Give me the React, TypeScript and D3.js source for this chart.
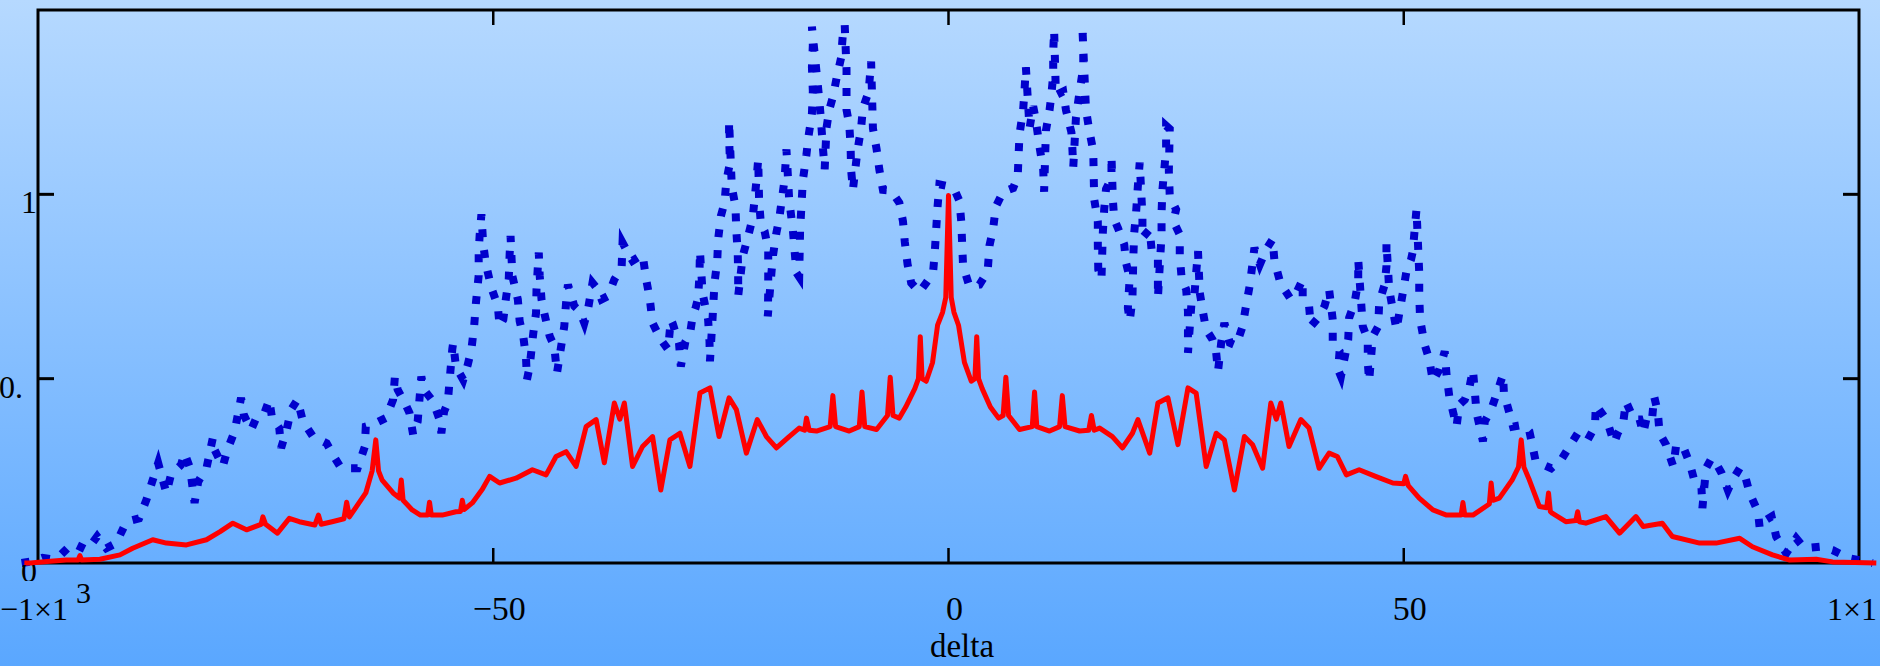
import React from "react";
import * as d3 from "d3";

// ---- data (delta, value) ----
const xTicks = [-50, 0, 50];
const yTicks = [0.5, 1];

const blueLeft: [number, number][] = [
  [-101.8,0],[-100.5,0.005],[-99.5,0.014],[-98.5,0.01],[-97.5,0.022],[-96.2,0.054],[-94.6,0.035],[-93.5,0.072],[-92.5,0.04],[-91.4,0.054],[-90.3,0.112],[-88.9,0.121],[-88.1,0.171],[-87.4,0.225],[-86.8,0.271],[-85.9,0.19],[-85.4,0.239],[-84.3,0.266],[-83.9,0.298],[-83.3,0.257],[-82.8,0.163],[-82.4,0.221],[-81.5,0.257],[-80.8,0.339],[-80.6,0.307],[-79.7,0.262],[-79.2,0.307],[-78.4,0.357],[-77.7,0.448],[-77.4,0.402],[-76.6,0.361],[-76.1,0.389],[-75.2,0.402],[-74.6,0.443],[-74.3,0.394],[-73.5,0.366],[-73.3,0.312],[-72.7,0.36],[-72.2,0.416],[-71.5,0.443],[-70.9,0.384],[-69.8,0.343],[-68.3,0.325],[-67.6,0.293],[-66.7,0.257],[-64.9,0.257],[-64.1,0.316],[-64.0,0.37],[-63.3,0.375],[-61.8,0.393],[-61.0,0.443],[-60.8,0.506],[-60.5,0.47],[-59.7,0.434],[-59.2,0.407],[-58.8,0.348],[-58.3,0.384],[-57.9,0.506],[-57.6,0.47],[-56.6,0.438],[-55.9,0.389],[-55.7,0.352],[-55.4,0.411],[-55.0,0.434],[-54.8,0.493],[-54.5,0.58],[-54.4,0.597],[-54.1,0.533],[-53.3,0.497],[-52.8,0.538],[-52.4,0.579],[-52.1,0.642],[-51.9,0.706],[-51.6,0.78],[-51.6,0.84],[-51.5,0.887],[-51.3,0.946],[-51.1,0.864],[-50.8,0.81],[-50.2,0.746],[-49.5,0.697],[-49.3,0.642],[-48.9,0.66],[-48.6,0.719],[-48.3,0.769],[-48.2,0.837],[-48.1,0.887],[-47.9,0.778],[-47.3,0.715],[-47.1,0.656],[-46.7,0.615],[-46.4,0.556],[-46.3,0.497],[-46.0,0.533],[-45.6,0.624],[-45.3,0.678],[-45.25,0.742],[-45.1,0.805],[-45.0,0.842],[-44.9,0.78],[-44.7,0.715],[-44.4,0.678],[-43.8,0.615],[-43.3,0.588],[-43.0,0.515],[-42.2,0.642],[-42.0,0.706],[-41.8,0.755],[-41.1,0.697],[-40.5,0.683],[-40.0,0.651],[-39.6,0.687],[-39.1,0.76],[-38.5,0.742],[-38.1,0.715],[-37.4,0.724],[-36.7,0.769],[-35.9,0.801],[-35.8,0.869],[-35.0,0.832],[-34.7,0.82],[-33.6,0.837],[-33.2,0.769],[-32.8,0.715],[-32.5,0.651],[-31.6,0.606],[-30.8,0.579],[-30.5,0.66],[-30.3,0.65],[-29.6,0.597],[-29.4,0.533],[-28.9,0.6],[-28.4,0.62],[-28.1,0.669],[-27.8,0.69],[-27.5,0.719],[-27.35,0.783],[-27.3,0.846],[-27.0,0.73],[-26.4,0.66],[-26.25,0.601],[-26.2,0.547],[-25.9,0.669],[-25.7,0.76],[-25.4,0.819],[-25.3,0.878],[-25.0,0.941],[-24.6,0.977],[-24.4,1.036],[-24.0,1.086],[-24.1,1.154],[-24.1,1.199],[-23.8,1.02],[-23.4,0.968],[-23.3,0.9],[-23.15,0.842],[-23.1,0.787],[-23.1,0.724],[-22.6,0.832],[-22.0,0.887],[-21.5,0.937],[-21.1,1.036],[-20.9,1.095],[-20.8,0.98],[-20.6,0.918],[-20.2,0.9],[-19.8,0.851],[-19.8,0.787],[-19.8,0.733],[-19.85,0.669],[-19.3,0.83],[-18.9,0.896],[-18.6,0.932],[-18.0,1.041],[-17.8,1.122],[-17.5,0.986],[-17.1,0.905],[-16.9,0.846],[-16.7,0.787]
];

const blueCenter: [number, number][] = [
  [-16.4,0.776],[-16.3,0.902],[-16.0,1.037],[-15.6,1.108],[-15.4,1.153],[-15.0,1.219],[-14.9,1.279],[-15.0,1.345],[-14.9,1.405],[-15.0,1.455],[-14.2,1.259],[-14.0,1.199],[-13.8,1.128],[-13.6,1.068],[-13.4,1.18],[-13.1,1.229],[-12.7,1.264],[-12.3,1.314],[-11.8,1.37],[-11.6,1.435],[-11.4,1.46],[-11.2,1.34],[-11.2,1.229],[-10.9,1.189],[-10.75,1.128],[-10.7,1.068],[-10.5,1.012],[-10.0,1.118],[-9.6,1.179],[-9.4,1.234],[-8.9,1.269],[-8.7,1.3],[-8.5,1.36],[-8.3,1.179],[-7.9,1.123],[-7.6,1.068],[-7.2,1.012],[-6.3,1.01],[-5.4,0.977],[-5.0,0.927],[-4.8,0.871],[-4.5,0.811],[-4.1,0.76],[-3.2,0.735],[-2.45,0.76],[-1.7,0.786],[-1.5,0.846],[-1.35,0.906],[-1.2,0.967],[-1.0,1.027],[0,1.022],[0.7,1.01],[1.2,0.982],[1.4,0.927],[1.5,0.866],[1.6,0.806],[2.3,0.75],[3.4,0.755],[4.3,0.791],[4.5,0.861],[4.9,0.906],[5.2,0.967],[6.0,1.007],[7.1,1.017],[7.6,1.048],[7.7,1.108],[7.8,1.163],[8.2,1.229],[8.35,1.284],[8.5,1.345],[8.9,1.179],[9.3,1.239],[9.6,1.2],[10.0,1.128],[10.4,1.068],[10.5,1.007],[10.7,1.173],[11.1,1.229],[11.3,1.27],[11.5,1.325],[11.5,1.385],[11.6,1.445],[11.8,1.269],[12.6,1.279],[12.9,1.229],[13.5,1.168],[13.6,1.128],[13.7,1.073],[14.0,1.209],[14.4,1.279],[14.8,1.345],[14.8,1.4],[14.7,1.455],[15.1,1.229],[15.5,1.168],[15.9,1.118],[15.95,1.048],[16.0,0.987],[16.4,0.927],[16.4,0.861],[16.45,0.796],[16.8,0.769]
];

const blueRight: [number, number][] = [
  [16.95,0.896],[17.1,0.959],[17.3,1.014],[17.9,1.045],[17.9,1.104],[18.05,0.986],[18.2,0.932],[18.6,0.909],[19.3,0.864],[19.5,0.814],[19.9,0.774],[19.7,0.692],[19.9,0.656],[20.2,0.715],[20.3,0.832],[20.4,0.896],[20.6,0.95],[20.8,1.023],[21.0,1.086],[21.3,0.941],[21.3,0.882],[22.1,0.905],[22.3,0.851],[23.0,0.828],[23.0,0.769],[23.0,0.719],[23.4,0.891],[23.4,0.95],[23.5,1.014],[23.9,1.122],[23.9,1.186],[24.3,1.177],[24.2,1.063],[24.3,0.995],[25.0,0.959],[24.7,0.927],[25.4,0.891],[25.4,0.832],[25.6,0.774],[26.1,0.742],[26.3,0.683],[26.3,0.629],[26.3,0.57],[26.7,0.71],[27.0,0.724],[27.2,0.787],[27.4,0.846],[27.6,0.733],[27.9,0.687],[28.3,0.633],[29.0,0.606],[29.4,0.57],[29.6,0.52],[29.95,0.597],[30.3,0.651],[30.9,0.597],[31.6,0.59],[32.3,0.642],[32.7,0.701],[33.1,0.755],[33.4,0.814],[33.6,0.855],[34.2,0.81],[34.9,0.851],[35.6,0.878],[35.8,0.819],[36.4,0.764],[36.9,0.742],[37.6,0.715],[38.2,0.733],[38.9,0.769],[38.9,0.715],[39.6,0.697],[39.8,0.642],[40.6,0.665],[41.3,0.697],[41.8,0.742],[42.2,0.66],[42.2,0.597],[42.95,0.574],[42.8,0.524],[43.1,0.506],[43.9,0.606],[44.0,0.665],[44.6,0.706],[45.0,0.764],[45.0,0.823],[45.5,0.642],[46.05,0.606],[46.05,0.543],[46.2,0.493],[46.6,0.615],[47.2,0.642],[47.3,0.706],[47.9,0.755],[48.1,0.805],[48.1,0.869],[48.4,0.742],[48.8,0.687],[49.2,0.633],[49.9,0.733],[50.3,0.792],[50.8,0.823],[51.0,0.846],[51.2,0.905],[51.4,0.959],[51.7,0.787],[51.7,0.724],[51.8,0.66],[52.3,0.592],[52.8,0.552],[53.2,0.493],[53.9,0.524],[54.5,0.574],[54.7,0.511],[55.0,0.452],[55.8,0.37],[56.1,0.429],[56.7,0.443],[57.2,0.475],[57.6,0.524],[58.0,0.407],[58.7,0.33],[58.9,0.384],[59.6,0.416],[60.3,0.466],[60.9,0.511],[61.0,0.461],[61.6,0.407],[62.0,0.37],[63.1,0.375],[63.8,0.357],[64.0,0.334],[64.5,0.275],[66.2,0.257],[67.3,0.28],[68.2,0.316],[69.1,0.352],[70.2,0.334],[71.0,0.37],[71.1,0.429],[72.0,0.398],[72.4,0.38],[73.1,0.325],[73.5,0.352],[74.1,0.38],[74.4,0.438],[75.3,0.389],[75.9,0.389],[76.3,0.352],[76.8,0.407],[77.3,0.398],[77.5,0.452],[77.9,0.41],[78.1,0.352],[78.8,0.321],[79.6,0.262],[79.9,0.316],[80.6,0.321],[81.4,0.271],[82.1,0.207],[82.7,0.203],[82.8,0.149],[83.2,0.257],[83.8,0.284],[84.3,0.271],[84.9,0.244],[85.6,0.198],[86.1,0.225],[86.9,0.257],[87.4,0.244],[88.0,0.189],[88.9,0.139],[89.1,0.094],[89.8,0.117],[90.4,0.126],[90.9,0.072],[92.0,0.026],[93.1,0.067],[94.0,0.04],[95.7,0.044],[97.1,0.035],[98.9,0.013],[101.5,0]
];

const redLeft: [number, number][] = [
  [-101.5,0],[-100.8,0.0],[-99,0.004],[-96.9,0.008],[-95.6,0.008],[-95.4,0.02],[-95.2,0.008],[-93.2,0.01],[-91,0.022],[-89.6,0.04],[-87.4,0.063],[-85.9,0.054],[-83.7,0.049],[-81.5,0.063],[-80,0.085],[-78.6,0.108],[-77.1,0.09],[-75.5,0.105],[-75.3,0.125],[-75.0,0.105],[-73.7,0.081],[-72.4,0.121],[-71.3,0.112],[-69.6,0.103],[-69.2,0.13],[-68.9,0.105],[-67.7,0.112],[-66.4,0.12],[-66.1,0.165],[-65.8,0.125],[-64.0,0.19],[-63.3,0.25],[-62.9,0.334],[-62.6,0.25],[-62.2,0.225],[-61.0,0.19],[-60.3,0.176],[-60.1,0.225],[-59.9,0.17],[-58.9,0.144],[-58.0,0.13],[-57.2,0.13],[-57.0,0.165],[-56.8,0.13],[-55.6,0.13],[-54.1,0.139],[-53.6,0.14],[-53.4,0.17],[-53.2,0.145],[-52.3,0.163],[-51.2,0.2],[-50.4,0.235],[-49.3,0.217],[-47.5,0.23],[-45.7,0.253],[-44.2,0.239],[-43.1,0.289],[-42.0,0.302],[-40.9,0.262],[-39.8,0.37],[-38.7,0.389],[-37.8,0.272],[-36.7,0.434],[-36.1,0.39],[-35.6,0.434],[-34.7,0.262],[-33.6,0.316],[-32.5,0.343],[-31.6,0.198],[-30.6,0.334],[-29.5,0.352],[-28.4,0.262],[-27.3,0.461],[-26.2,0.475],[-25.2,0.343],[-24.1,0.448],[-23.3,0.416],[-22.2,0.298],[-21.0,0.389],[-20.0,0.343],[-18.9,0.312],[-17.5,0.343],[-16.4,0.366]
];

const redCenter: [number, number][] = [
  [-15.8,0.36],[-15.6,0.393],[-15.3,0.36],[-14.5,0.358],[-13.0,0.37],[-12.7,0.454],[-12.4,0.37],[-10.9,0.358],[-9.8,0.37],[-9.5,0.464],[-9.2,0.37],[-7.9,0.362],[-6.7,0.4],[-6.4,0.504],[-6.1,0.4],[-5.4,0.393],[-4.7,0.423],[-3.7,0.473],[-3.3,0.5],[-3.1,0.614],[-2.9,0.5],[-2.45,0.493],[-1.75,0.544],[-1.2,0.645],[-0.65,0.68],[-0.3,0.72],[0,0.997],[0.3,0.72],[0.6,0.68],[1.1,0.645],[1.75,0.544],[2.5,0.493],[2.9,0.5],[3.1,0.614],[3.3,0.5],[3.7,0.473],[4.6,0.423],[5.5,0.393],[6.0,0.4],[6.3,0.504],[6.6,0.4],[7.8,0.362],[9.2,0.37],[9.45,0.464],[9.7,0.37],[11.1,0.358],[12.2,0.37],[12.5,0.454],[12.8,0.37],[14.4,0.358],[15.4,0.36],[15.7,0.4],[16.0,0.36]
];

const redRight: [number, number][] = [
  [16.6,0.366],[18.0,0.343],[19.1,0.312],[20.2,0.352],[20.8,0.389],[22.1,0.298],[23.0,0.434],[24.1,0.448],[25.2,0.321],[26.3,0.475],[27.2,0.461],[28.3,0.262],[29.4,0.352],[30.3,0.334],[31.4,0.198],[32.5,0.343],[33.4,0.321],[34.5,0.257],[35.4,0.434],[36.0,0.39],[36.5,0.434],[37.4,0.316],[38.7,0.389],[39.6,0.366],[40.7,0.257],[41.8,0.298],[42.7,0.289],[43.7,0.239],[45.1,0.253],[46.9,0.235],[48.8,0.217],[50.0,0.215],[50.2,0.235],[50.5,0.21],[51.7,0.176],[53.2,0.144],[54.7,0.13],[56.3,0.13],[56.5,0.164],[56.7,0.13],[57.6,0.13],[59.4,0.16],[59.6,0.217],[59.8,0.17],[60.5,0.176],[61.9,0.225],[62.6,0.26],[62.9,0.334],[63.2,0.26],[63.8,0.225],[64.9,0.153],[65.7,0.15],[65.9,0.19],[66.1,0.14],[66.3,0.135],[67.8,0.112],[68.9,0.115],[69.1,0.139],[69.3,0.112],[70,0.108],[72.2,0.126],[73.7,0.081],[75.5,0.126],[76.3,0.099],[78.4,0.108],[79.5,0.072],[82.5,0.054],[84.3,0.054],[86.9,0.067],[88.3,0.044],[90.5,0.022],[92.4,0.008],[95.3,0.01],[97.1,0.003],[101.9,0]
];

const blueSeries = [...blueLeft, ...blueCenter, ...blueRight];
const redSeries = [...redLeft, ...redCenter, ...redRight];

const W = 1880;
const H = 666;
const FONT = "'Liberation Serif', 'Times New Roman', serif";

export default function App() {
  const x = d3.scaleLinear().domain([-100, 100]).range([38, 1859]);
  const y = d3.scaleLinear().domain([0, 1.5]).range([563, 10]);
  const line = d3
    .line<[number, number]>()
    .x((d) => x(d[0]))
    .y((d) => y(d[1]));

  const left = x(-100);
  const right = x(100);
  const top = y(1.5);
  const bottom = y(0);

  return (
    <>
      <style>{`body{margin:0;overflow:hidden;}`}</style>
      <svg width={W} height={H} style={{ display: "block" }}>
        <defs>
          <linearGradient id="bg" x1="0" y1="0" x2="0" y2="1">
            <stop offset="0" stopColor="#b6d9ff" />
            <stop offset="1" stopColor="#5aa7ff" />
          </linearGradient>
          <clipPath id="zeroclip">
            <rect x={0} y={565} width={60} height={16} />
          </clipPath>
        </defs>
        <rect x={0} y={0} width={W} height={H} fill="url(#bg)" />

        {/* frame */}
        <rect
          x={left}
          y={top}
          width={right - left}
          height={bottom - top}
          fill="none"
          stroke="#000"
          strokeWidth={3}
        />
        {/* x ticks (bottom & top, inward) */}
        {xTicks.map((t) => (
          <g key={"xt" + t}>
            <line x1={x(t)} x2={x(t)} y1={bottom} y2={bottom - 15} stroke="#000" strokeWidth={2.5} />
            <line x1={x(t)} x2={x(t)} y1={top} y2={top + 15} stroke="#000" strokeWidth={2.5} />
          </g>
        ))}
        {/* y ticks (left & right, inward) */}
        {yTicks.map((t) => (
          <g key={"yt" + t}>
            <line x1={left} x2={left + 16} y1={y(t)} y2={y(t)} stroke="#000" strokeWidth={3} />
            <line x1={right} x2={right - 16} y1={y(t)} y2={y(t)} stroke="#000" strokeWidth={3} />
          </g>
        ))}

        {/* series */}
        <path
          d={line(blueSeries) || ""}
          fill="none"
          stroke="#0000cc"
          strokeWidth={8}
          strokeDasharray="8 13"
          strokeLinejoin="miter"
        />
        <path
          d={line(redSeries) || ""}
          fill="none"
          stroke="#ff0000"
          strokeWidth={5}
          strokeLinejoin="round"
        />

        {/* labels */}
        <g fontFamily={FONT} fill="#000">
          {xTicks.map((t) => (
            <text key={"xl" + t} x={x(t) + 6} y={620} fontSize={34} textAnchor="middle">
              {t < 0 ? "\u2212" + Math.abs(t) : String(t)}
            </text>
          ))}
          <text x={0} y={620} fontSize={32}>
            {"\u22121\u00d71"}
          </text>
          <text x={76} y={603} fontSize={30}>
            3
          </text>
          <text x={1877} y={620} fontSize={32} textAnchor="end">
            {"1\u00d71"}
          </text>
          <text x={21} y={y(1) + 19} fontSize={32}>
            1
          </text>
          <text x={-1} y={y(0.5) + 19} fontSize={32}>
            0.
          </text>
          <text x={21} y={582} fontSize={32} clipPath="url(#zeroclip)">
            0
          </text>
          <text x={962} y={657} fontSize={33} textAnchor="middle">
            delta
          </text>
        </g>
      </svg>
    </>
  );
}
